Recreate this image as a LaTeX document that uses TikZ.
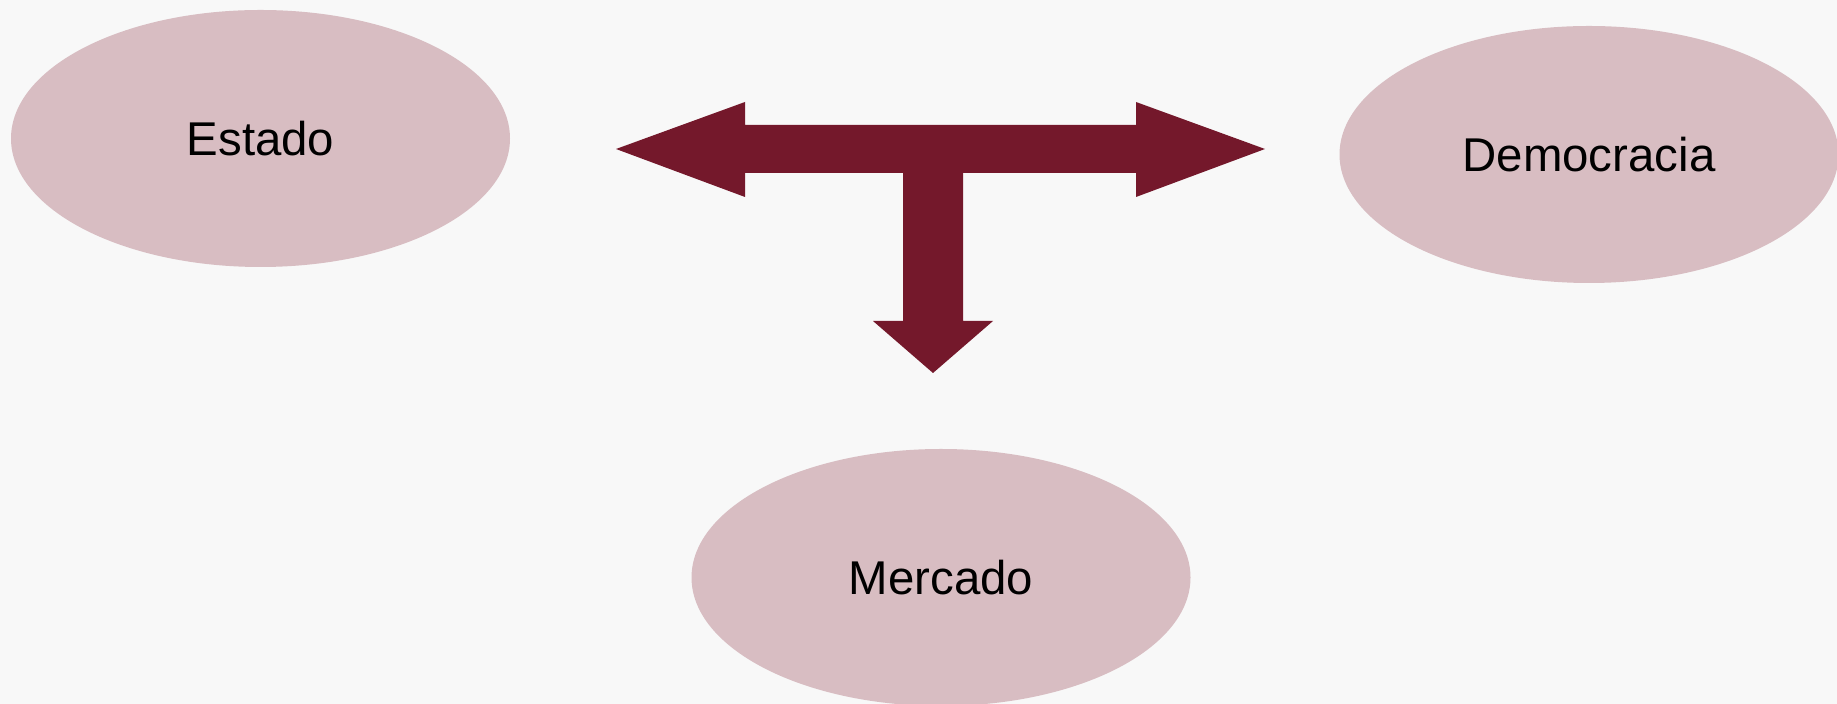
\documentclass[tikz,border=0pt]{standalone}
\usepackage{fontspec}
\setmainfont{Liberation Sans}
\usetikzlibrary{shapes.geometric}
\definecolor{bgc}{HTML}{F8F8F8}
\definecolor{ellc}{HTML}{D8BDC2}
\definecolor{arrc}{HTML}{74182B}
\begin{document}
\begin{tikzpicture}[x=0.5pt,y=-0.5pt,
  blob/.style={ellipse,fill=ellc,draw=none,inner sep=0pt,minimum width=249.5pt,minimum height=128.5pt,font=\fontsize{23.7pt}{28pt}\selectfont,text=black}]
\useasboundingbox (0,0) rectangle (1837,704);
\clip (0,0) rectangle (1837,704);
\fill[bgc] (0,0) rectangle (1837,704);
\node[blob] (estado) at (260.5,138.5) {Estado};
\node[blob] (democracia) at (1589,154.5) {Democracia};
\node[blob] (mercado) at (941,577.5) {Mercado};
\fill[arrc] (616,149) -- (745,102) -- (745,125) -- (1136,125) -- (1136,102) -- (1265,149)
  -- (1136,197) -- (1136,173) -- (963,173) -- (963,321) -- (993,321) -- (933,373)
  -- (873,321) -- (903,321) -- (903,173) -- (745,173) -- (745,197) -- cycle;
\end{tikzpicture}
\end{document}
